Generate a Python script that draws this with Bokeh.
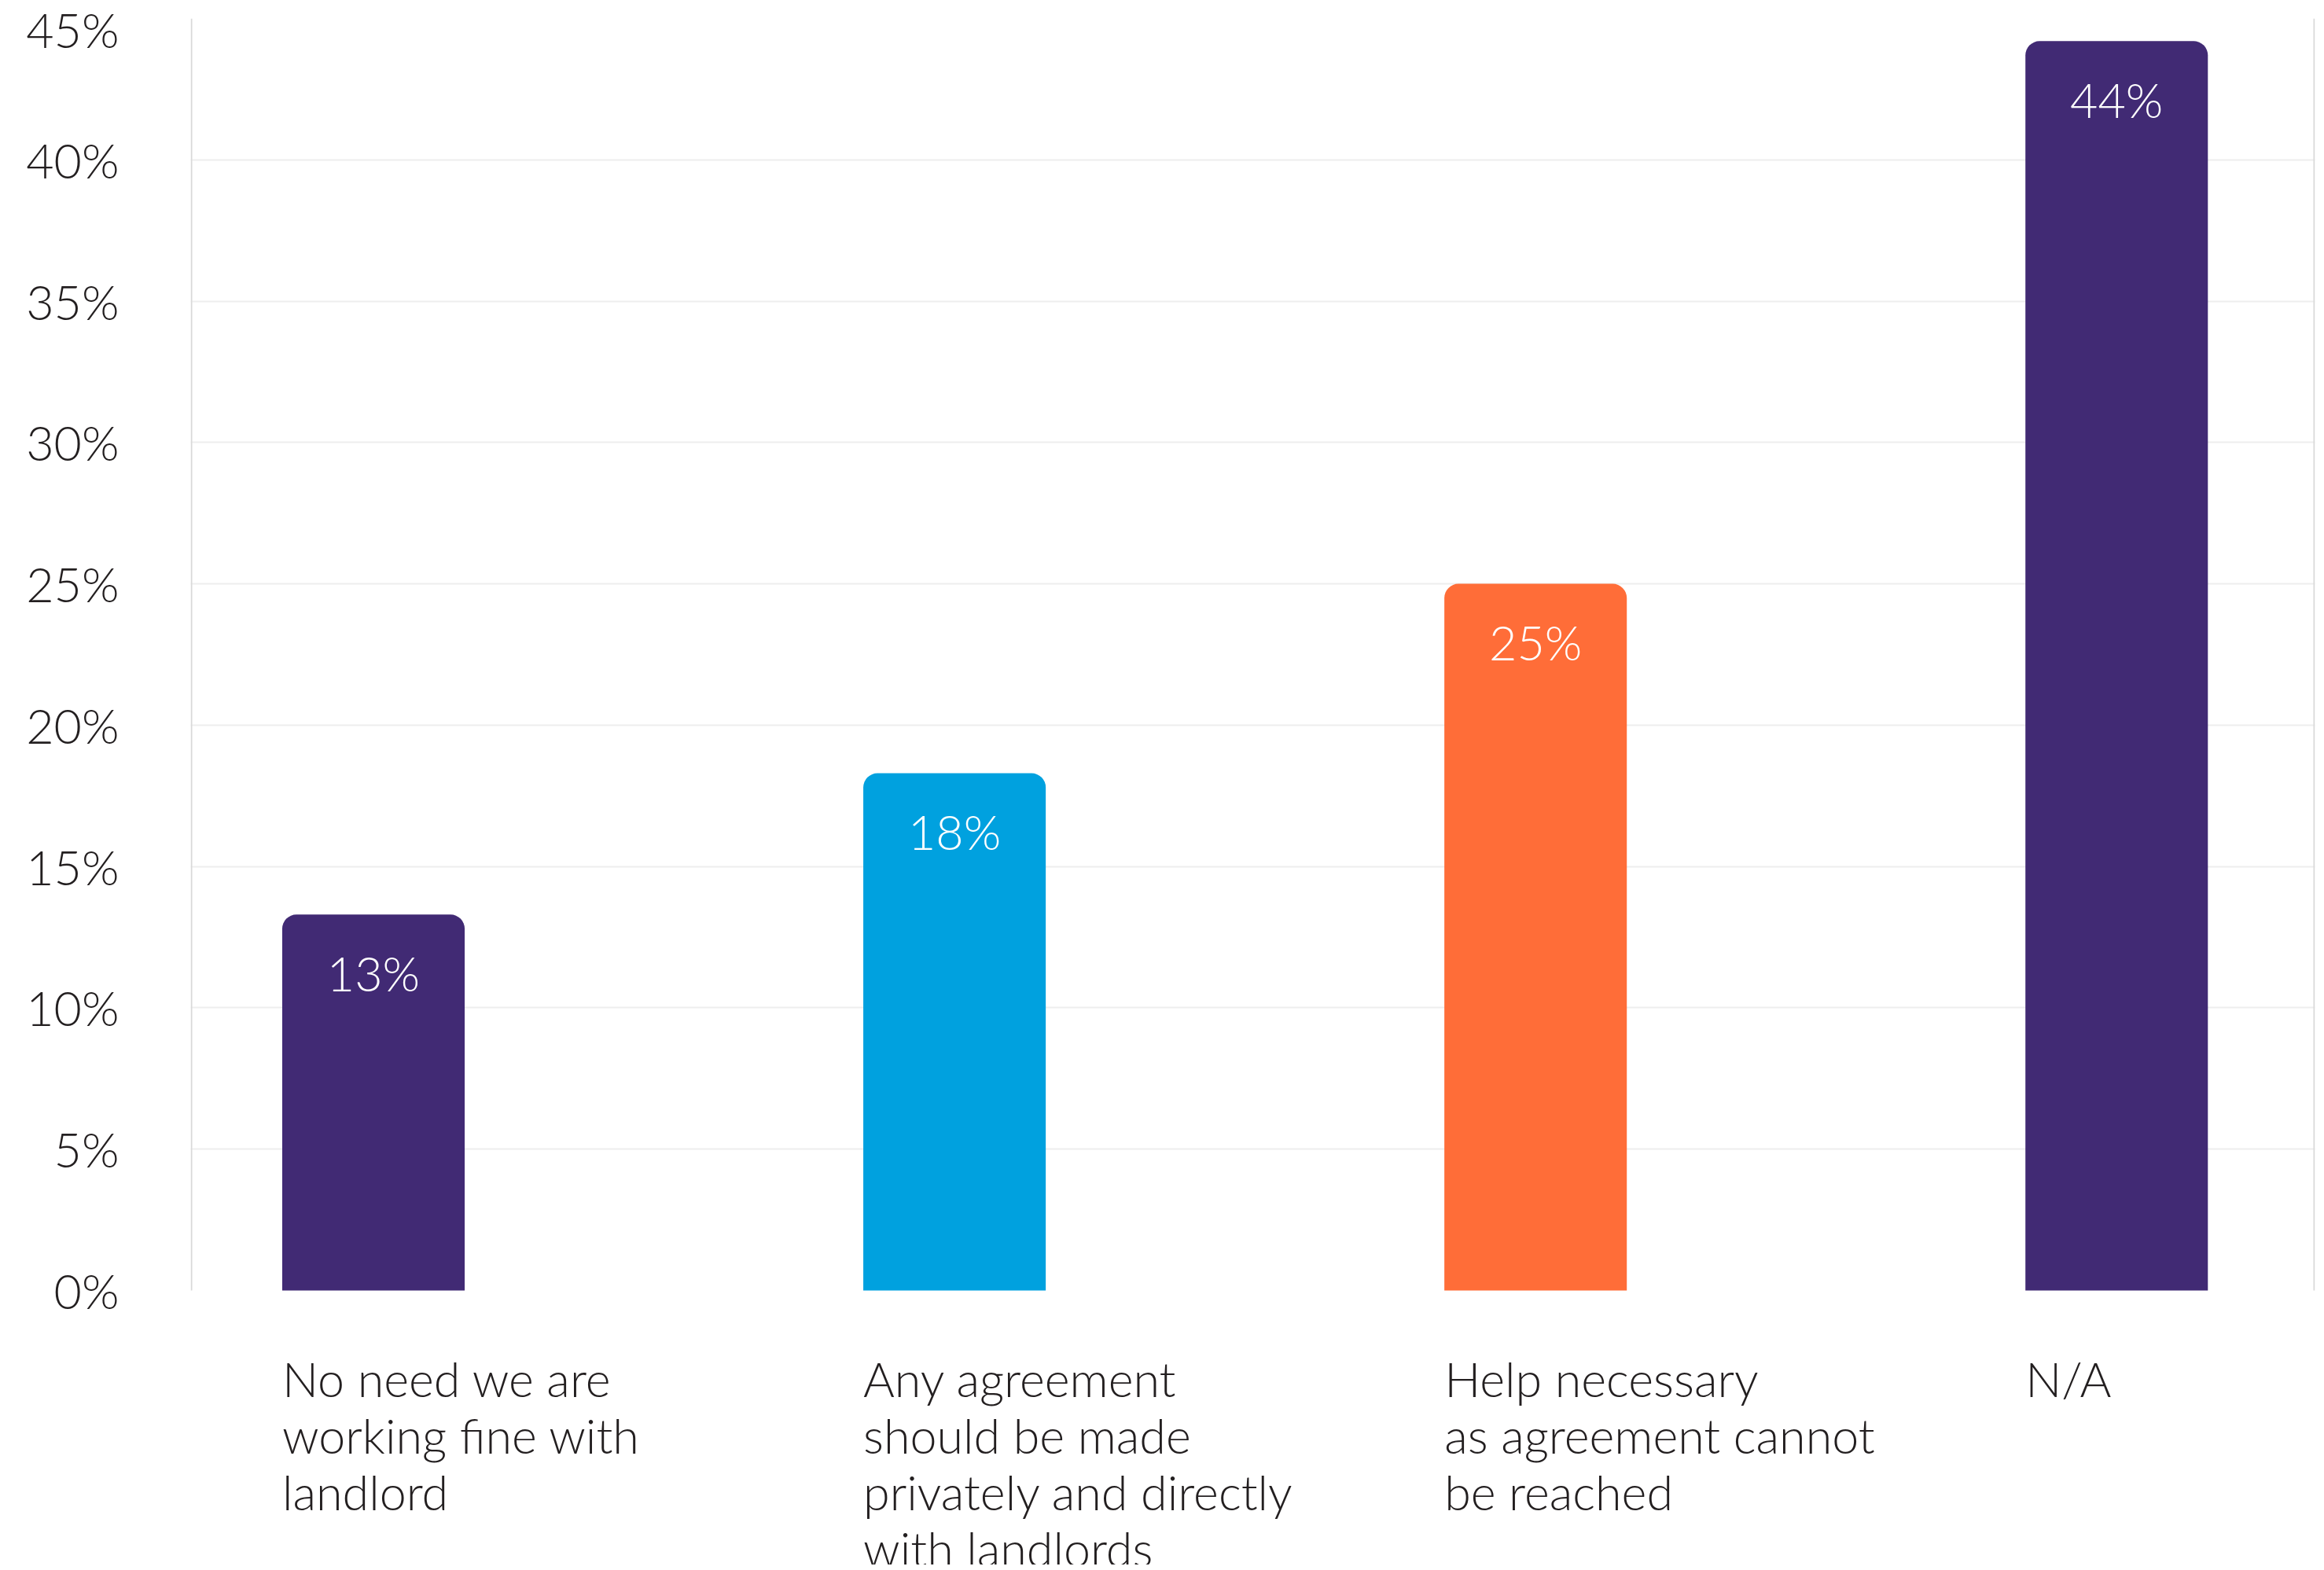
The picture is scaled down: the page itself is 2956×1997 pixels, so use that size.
from bokeh.plotting import figure
from bokeh.models import ColumnDataSource, FixedTicker, Range1d
from bokeh.core.properties import value
from bokeh.embed import file_html
from bokeh.resources import INLINE

# ---- data ----
categories = [
    ["No need we are", "working fine with", "landlord"],
    ["Any agreement", "should be made", "privately and directly", "with landlords"],
    ["Help necessary", "as agreement cannot", "be reached"],
    ["N/A"],
]
values = [13.3, 18.3, 25.0, 44.2]
value_labels = ["13%", "18%", "25%", "44%"]
bar_colors = ["#412A74", "#00A1DF", "#FF6D38", "#412A74"]
y_ticks = [0, 5, 10, 15, 20, 25, 30, 35, 40, 45]
y_tick_labels = ["0%", "5%", "10%", "15%", "20%", "25%", "30%", "35%", "40%", "45%"]
grid_ticks = [5, 10, 15, 20, 25, 30, 35, 40]

# ---- layout constants ----
W, H = 2948, 1990
B_LEFT, B_RIGHT, B_TOP = 242, 4, 23
ZERO_PX = 1641            # page y of the zero baseline
Y_MAX = 45
PX_PER_UNIT = (ZERO_PX - B_TOP) / Y_MAX
Y_MIN = -(H - ZERO_PX) / PX_PER_UNIT
X_START, X_END = -0.3146, 3.3413
FRAME_W = W - B_LEFT - B_RIGHT
PX_PER_X = FRAME_W / (X_END - X_START)
BAR_W = 0.314
FONT = "Lato Light, Lato"
FS = "61px"
TEXT_COLOR = "#231F20"
LINE_COLOR = "#D9D9D9"

xs = list(range(len(values)))
src = ColumnDataSource(dict(
    x=xs, top=values, color=bar_colors, lab=value_labels,
    ly=[v - 74 / PX_PER_UNIT for v in values],
))

# category label rows
FIRST_BASELINE_PX = 112
LINE_PX = 72
cx, cy, ct = [], [], []
for i, lines in enumerate(categories):
    for k, line in enumerate(lines):
        cx.append(i - BAR_W / 2)
        cy.append(-(FIRST_BASELINE_PX + k * LINE_PX) / PX_PER_UNIT)
        ct.append(line)
cat_src = ColumnDataSource(dict(x=cx, y=cy, t=ct))

p = figure(width=W, height=H, output_backend="svg", toolbar_location=None,
           x_range=Range1d(X_START, X_END), y_range=Range1d(Y_MIN, Y_MAX),
           min_border_left=B_LEFT, min_border_right=B_RIGHT,
           min_border_top=B_TOP, min_border_bottom=0,
           background_fill_color="white", border_fill_color="white",
           outline_line_color=None)

p.ygrid.ticker = FixedTicker(ticks=grid_ticks)
p.ygrid.grid_line_color = "#EEEEEE"
p.ygrid.grid_line_width = 2
p.xgrid.visible = False

# left and right frame lines (from 0 to top)
edge_x = [X_START + 1 / PX_PER_X, X_END - 1 / PX_PER_X]
p.segment(x0=edge_x, x1=edge_x, y0=[0, 0], y1=[Y_MAX, Y_MAX],
          line_color=LINE_COLOR, line_width=2)

p.vbar(x="x", top="top", bottom=0, width=BAR_W, fill_color="color",
       line_color=None, border_radius=(18, 18, 0, 0), source=src)

p.text(x="x", y="ly", text="lab", source=src, text_color="white",
       text_font=value(FONT), text_font_size=FS,
       text_align="center", text_baseline="alphabetic")

p.text(x="x", y="y", text="t", source=cat_src, text_color=TEXT_COLOR,
       text_font=value(FONT), text_font_size=FS,
       text_align="left", text_baseline="alphabetic")

# axes
p.xaxis.visible = False
ya = p.yaxis[0]
ya.ticker = FixedTicker(ticks=y_ticks)
ya.major_label_overrides = {t: l for t, l in zip(y_ticks, y_tick_labels)}
ya.major_tick_line_color = None
ya.minor_tick_line_color = None
ya.major_tick_out = 0
ya.major_tick_in = 0
ya.axis_line_color = None
ya.major_label_text_font = FONT
ya.major_label_text_font_size = FS
ya.major_label_text_color = TEXT_COLOR
ya.major_label_standoff = 91

open("out.html", "w").write(file_html(p, INLINE))
